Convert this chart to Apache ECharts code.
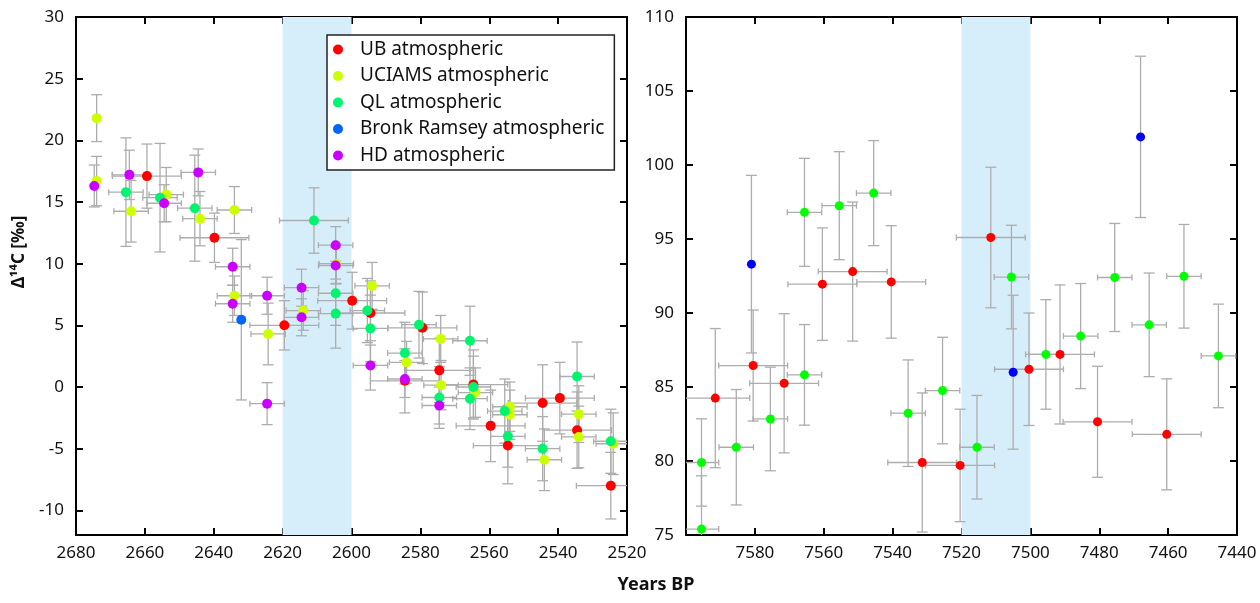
<!DOCTYPE html>
<html>
<head>
<meta charset="utf-8">
<title>Δ14C atmospheric records</title>
<script src="https://cdn.jsdelivr.net/npm/echarts@6/dist/echarts.min.js"></script>
<style>
  html, body { margin: 0; padding: 0; background: #fff; }
  #chart { width: 1260px; height: 603px; }
</style>
</head>
<body>
<div id="chart"></div>
<script>
// each point: [years BP, Δ14C, x error, y error]
const seriesNames = ['UB atmospheric', 'UCIAMS atmospheric', 'QL atmospheric', 'Bronk Ramsey atmospheric', 'HD atmospheric']

// left panel, 2680 - 2520 BP
const leftUB = [
  [2659.4, 17.1, 10, 2.6], [2639.8, 12.1, 10, 2.0], [2619.5, 5.0, 10, 2.0], [2599.8, 7.0, 10, 2.3],
  [2594.5, 6.0, 10, 2.6], [2579.4, 4.8, 10, 2.9], [2584.5, 0.5, 10, 2.6], [2574.5, 1.35, 10, 2.6],
  [2564.6, 0.2, 10, 2.8], [2559.6, -3.15, 10, 2.9], [2554.6, -4.75, 10, 3.1], [2544.5, -1.3, 10, 3.1],
  [2539.5, -0.9, 10, 2.9], [2534.5, -3.5, 10, 3.1], [2524.7, -8.0, 10, 2.7],
]
const leftUCIAMS = [
  [2674, 21.8, 0, 1.9], [2674, 16.7, 0, 2.0], [2664, 14.25, 5, 2.5], [2653.8, 15.6, 5, 2.2],
  [2644, 13.65, 5, 2.2], [2634, 14.35, 5, 1.9], [2634, 7.4, 5, 1.6], [2624.2, 4.3, 5, 2.5],
  [2614, 6.2, 5, 1.6], [2604.4, 10.0, 5, 1.6], [2594, 8.2, 5, 1.9], [2584, 2.0, 5, 1.7],
  [2574.1, 3.9, 5, 1.9], [2574, 0.15, 5, 2.0], [2564, -0.45, 5, 2.0], [2554, -1.6, 5, 2.0],
  [2554, -2.25, 5, 2.0], [2544, -5.9, 5, 2.5], [2534, -2.2, 5, 2.3], [2534, -4.05, 5, 2.5],
  [2524, -4.6, 5, 2.5],
]
const leftQL = [
  [2665.5, 15.8, 5, 4.4], [2655.6, 15.35, 5, 4.4], [2645.5, 14.5, 5, 4.3], [2610.9, 13.5, 10, 2.65],
  [2604.6, 7.6, 5, 2.6], [2604.6, 5.95, 5, 2.8], [2595.4, 6.2, 5, 2.6], [2594.5, 4.75, 5, 2.7],
  [2580.4, 5.05, 5, 2.7], [2584.5, 2.75, 5, 2.5], [2574.5, -0.85, 5, 2.5], [2565.6, 3.75, 5, 2.8],
  [2564.6, 0.0, 5, 2.5], [2565.6, -0.95, 5, 2.5], [2555.5, -1.95, 5, 2.6], [2554.6, -4.0, 5, 2.5],
  [2544.5, -5.0, 5, 2.6], [2534.5, 0.85, 5, 2.8], [2524.7, -4.4, 5, 2.6],
]
const leftBronk = [
  [2632, 5.45, 0, 6.5],
]
const leftHD = [
  [2674.7, 16.3, 0, 1.7], [2664.5, 17.2, 5, 2.0], [2654.4, 14.9, 5, 1.5], [2644.5, 17.4, 5, 1.9],
  [2634.5, 9.75, 5, 1.5], [2634.5, 6.75, 5, 1.5], [2624.5, 7.4, 5, 1.5], [2624.5, -1.35, 5, 1.7],
  [2614.5, 8.05, 5, 1.5], [2614.5, 5.65, 5, 1.5], [2604.6, 11.5, 5, 1.5], [2604.6, 9.85, 5, 1.5],
  [2594.5, 1.75, 5, 2.0], [2584.5, 0.65, 5, 1.5], [2574.5, -1.5, 5, 1.5],
]

// right panel, 7600 - 7440 BP
const rightUB = [
  [7591.5, 84.25, 10, 4.7], [7580.5, 86.45, 10, 3.75], [7571.5, 85.25, 10, 4.7], [7560.4, 91.95, 10, 3.8],
  [7551.6, 92.8, 10, 4.7], [7540.4, 92.1, 10, 3.8], [7531.4, 79.9, 10, 4.7], [7520.4, 79.7, 10, 3.8],
  [7511.5, 95.1, 10, 4.75], [7500.4, 86.2, 10, 3.8], [7491.4, 87.2, 10, 4.7], [7480.5, 82.65, 10, 3.75],
  [7460.4, 81.8, 10, 3.75],
]
const rightQL = [
  [7595.5, 79.9, 5, 2.95], [7595.5, 75.4, 5, 3.6], [7585.4, 80.93, 5, 3.9], [7575.5, 82.84, 5, 3.5],
  [7565.6, 96.8, 5, 3.65], [7565.6, 85.82, 5, 3.4], [7555.5, 97.25, 5, 3.65], [7545.5, 98.1, 5, 3.55],
  [7535.5, 83.23, 5, 3.6], [7525.5, 84.76, 5, 3.6], [7515.5, 80.93, 5, 3.5], [7505.5, 92.43, 5, 3.5],
  [7495.5, 87.2, 5, 3.7], [7485.4, 88.44, 5, 3.55], [7475.5, 92.4, 5, 3.65], [7465.5, 89.2, 5, 3.5],
  [7455.4, 92.48, 5, 3.5], [7445.4, 87.1, 5, 3.5],
]
const rightBronk = [
  [7581, 93.3, 0, 6.0], [7505, 86.0, 0, 5.2], [7468, 101.9, 0, 5.45],
]

// shaded intervals [from, to]
const leftBand = [[2620, 2600]]
const rightBand = [[7520, 7500]]

const leftYTicks = { min: -12, max: 30 }
const rightYTicks = { min: 75, max: 110, interval: 5 }

const FONT = '"Noto Sans", "Open Sans", sans-serif'
const ERR_COLOR = '#adadad'
const leftColors = ['#ff0000', '#ccff00', '#00f46e', '#0066ff', '#cc00ff']
const rightColors = ['#ff0000', '#00ff00', '#0000ff']

const chart = echarts.init(document.getElementById('chart'))

// error bars drawn through the axes
function renderErrorBar(params, api) {
  const x = api.value(0)
  const y = api.value(1)
  const xe = api.value(2)
  const ye = api.value(3)
  const mid = api.coord([x, y])
  const hi = api.coord([x, y + ye])
  const lo = api.coord([x, y - ye])
  const style = { stroke: ERR_COLOR, lineWidth: 1.3 }
  const seg = (x1, y1, x2, y2) => ({ type: 'line', shape: { x1, y1, x2, y2 }, style })
  const kids = [
    seg(mid[0], hi[1], mid[0], lo[1]),
    seg(mid[0] - 5.5, hi[1], mid[0] + 5.5, hi[1]),
    seg(mid[0] - 5.5, lo[1], mid[0] + 5.5, lo[1]),
  ]
  if (xe > 0) {
    const l = api.coord([x - xe, y])
    const r = api.coord([x + xe, y])
    kids.push(
      seg(l[0], mid[1], r[0], mid[1]),
      seg(l[0], mid[1] - 3, l[0], mid[1] + 3),
      seg(r[0], mid[1] - 3, r[0], mid[1] + 3)
    )
  }
  return { type: 'group', children: kids }
}

// light blue interval spanning the full plot height
function renderBand(params, api) {
  const cs = params.coordSys
  const a = api.coord([api.value(0), 0])[0]
  const b = api.coord([api.value(1), 0])[0]
  return {
    type: 'rect',
    shape: { x: Math.min(a, b), y: cs.y, width: Math.abs(b - a), height: cs.height },
    style: { fill: '#d6eefa' },
  }
}

const tickStyle = { inside: true, length: 7, lineStyle: { color: '#000', width: 2 } }
const lineStyle = { show: true, onZero: false, lineStyle: { color: '#000', width: 2 } }
const labelStyle = { fontFamily: FONT, fontSize: 17, color: '#111', formatter: (v) => String(v) }

const makeX = (gridIndex, min, max, position, opts) => ({
  type: 'value', gridIndex, min, max, interval: 20, inverse: true, position,
  axisLine: lineStyle, axisTick: tickStyle, splitLine: { show: false },
  axisLabel: Object.assign({ show: position === 'bottom', margin: 10 }, labelStyle, opts || {}),
})
const makeY = (gridIndex, range, position, opts) => Object.assign({
  type: 'value', gridIndex, position,
  axisLine: lineStyle, axisTick: tickStyle, splitLine: { show: false },
  axisLabel: Object.assign({ show: position === 'left', margin: 12 }, labelStyle, opts || {}),
}, range)

const scatter = (name, data, color, xi, yi, size) => ({
  name, type: 'scatter', data, xAxisIndex: xi, yAxisIndex: yi,
  encode: { x: 0, y: 1 }, symbolSize: size, z: 3,
  itemStyle: { color, opacity: 1 },
})

const option = {
  animation: false,
  grid: [
    { left: 76, top: 17, width: 551, height: 518, show: true, borderColor: '#000', borderWidth: 2 },
    { left: 686, top: 17, width: 551, height: 518, show: true, borderColor: '#000', borderWidth: 2 },
  ],
  xAxis: [
    makeX(0, 2520, 2680, 'bottom', { showMinLabel: true, showMaxLabel: true }),
    makeX(0, 2520, 2680, 'top'),
    makeX(1, 7440, 7600, 'bottom', { showMinLabel: true, showMaxLabel: false }),
    makeX(1, 7440, 7600, 'top'),
  ],
  yAxis: [
    makeY(0, Object.assign({ splitNumber: 8 }, leftYTicks), 'left', { showMinLabel: false }),
    makeY(0, Object.assign({ splitNumber: 8 }, leftYTicks), 'right'),
    makeY(1, rightYTicks, 'left'),
    makeY(1, rightYTicks, 'right'),
  ],
  legend: {
    data: seriesNames,
    orient: 'vertical',
    left: 327,
    top: 35,
    padding: [4, 10, 4, 6],
    itemWidth: 10,
    itemHeight: 10,
    itemGap: 5.5,
    icon: 'circle',
    borderColor: '#222',
    borderWidth: 1.5,
    backgroundColor: '#fff',
    textStyle: { fontFamily: FONT, fontSize: 19, lineHeight: 21, color: '#111', padding: [0, 0, 0, 12] },
  },
  graphic: [
    {
      type: 'text', x: 656, y: 585,
      style: { text: 'Years BP', font: 'bold 18px ' + FONT, fill: '#111', textAlign: 'center', textVerticalAlign: 'middle' },
    },
    {
      type: 'text', x: 19, y: 252, rotation: Math.PI / 2,
      style: { text: 'Δ¹⁴C [‰]', font: 'bold 17px ' + FONT, fill: '#111', textAlign: 'center', textVerticalAlign: 'middle' },
    },
  ],
  series: [
    { type: 'custom', renderItem: renderBand, data: leftBand, xAxisIndex: 0, yAxisIndex: 0, encode: { x: [0, 1] }, z: 1, silent: true },
    { type: 'custom', renderItem: renderBand, data: rightBand, xAxisIndex: 2, yAxisIndex: 2, encode: { x: [0, 1] }, z: 1, silent: true },
    {
      type: 'custom', renderItem: renderErrorBar, clip: true, z: 2, silent: true,
      xAxisIndex: 0, yAxisIndex: 0, encode: { x: 0, y: 1 },
      data: [].concat(leftUB, leftUCIAMS, leftQL, leftBronk, leftHD),
    },
    {
      type: 'custom', renderItem: renderErrorBar, clip: true, z: 2, silent: true,
      xAxisIndex: 2, yAxisIndex: 2, encode: { x: 0, y: 1 },
      data: [].concat(rightUB, rightQL, rightBronk),
    },
    scatter(seriesNames[0], leftUB, leftColors[0], 0, 0, 10),
    scatter(seriesNames[1], leftUCIAMS, leftColors[1], 0, 0, 10),
    scatter(seriesNames[2], leftQL, leftColors[2], 0, 0, 10),
    scatter(seriesNames[3], leftBronk, leftColors[3], 0, 0, 10),
    scatter(seriesNames[4], leftHD, leftColors[4], 0, 0, 10),
    scatter(seriesNames[0], rightUB, rightColors[0], 2, 2, 9),
    scatter(seriesNames[2], rightQL, rightColors[1], 2, 2, 9),
    scatter(seriesNames[3], rightBronk, rightColors[2], 2, 2, 9),
  ],
}

chart.setOption(option)
window.addEventListener('resize', () => chart.resize())
</script>
</body>
</html>
